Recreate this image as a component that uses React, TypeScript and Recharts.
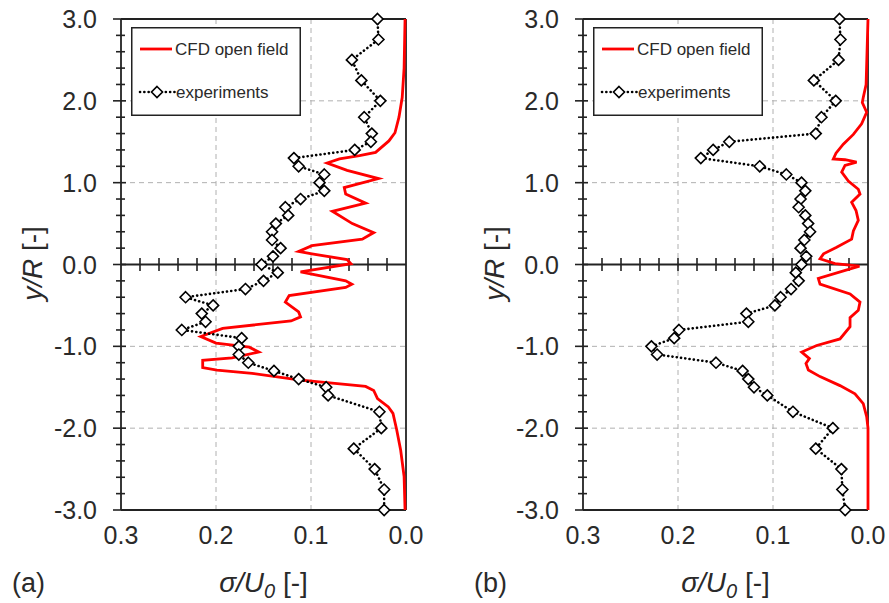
import React from "react";
import {
  ScatterChart,
  Scatter,
  XAxis,
  YAxis,
  ReferenceLine,
  Legend,
} from "recharts";

// ---------- data ----------
const expY = [
  3.0, 2.75, 2.5, 2.25, 2.0, 1.8, 1.6, 1.5, 1.4, 1.3, 1.2, 1.1, 1.0, 0.9, 0.8,
  0.7, 0.6, 0.5, 0.4, 0.3, 0.2, 0.1, 0.0, -0.1, -0.2, -0.3, -0.4, -0.5, -0.6,
  -0.7, -0.8, -0.9, -1.0, -1.1, -1.2, -1.3, -1.4, -1.5, -1.6, -1.8, -2.0, -2.25,
  -2.5, -2.75, -3.0,
];
const expA = [
  0.03, 0.029, 0.057, 0.047, 0.027, 0.044, 0.036, 0.037, 0.054, 0.118, 0.113,
  0.086, 0.091, 0.086, 0.111, 0.127, 0.124, 0.137, 0.141, 0.141, 0.132, 0.14,
  0.152, 0.135, 0.15, 0.169, 0.232, 0.203, 0.215, 0.211, 0.236, 0.173, 0.176,
  0.176, 0.166, 0.139, 0.113, 0.084, 0.082, 0.028, 0.026, 0.055, 0.033, 0.023,
  0.023,
];
const expB = [
  0.03, 0.029, 0.031, 0.057, 0.034, 0.049, 0.055, 0.146, 0.163, 0.176, 0.114,
  0.086, 0.07, 0.066, 0.071, 0.073, 0.066, 0.063, 0.061, 0.067, 0.071, 0.065,
  0.07, 0.076, 0.073, 0.081, 0.092, 0.098, 0.128, 0.126, 0.199, 0.204, 0.228,
  0.222, 0.16, 0.132, 0.126, 0.12, 0.106, 0.079, 0.037, 0.055, 0.028, 0.027,
  0.024,
];

const cfdAY = [
  3.0, 2.4, 2.04, 1.8, 1.61, 1.51, 1.37, 1.33, 1.29, 1.24, 1.15, 1.05, 0.94,
  0.86, 0.75, 0.65, 0.5, 0.39, 0.31, 0.23, 0.16, 0.13, 0.06, 0.01, -0.09, -0.2,
  -0.24, -0.28, -0.38, -0.46, -0.58, -0.64, -0.69, -0.78, -0.88, -0.96, -1.01,
  -1.07, -1.14, -1.17, -1.26, -1.29, -1.33, -1.41, -1.49, -1.54, -1.64, -1.74,
  -1.82, -2.02, -2.27, -2.59, -3.0,
];
const cfdAS = [
  0.001, 0.002, 0.004, 0.0074, 0.0116, 0.018, 0.032, 0.049, 0.07, 0.083, 0.062,
  0.029, 0.065, 0.0635, 0.0425, 0.0775, 0.0565, 0.034, 0.046, 0.099, 0.113,
  0.099, 0.062, 0.058, 0.111, 0.0635, 0.057, 0.0635, 0.123, 0.127, 0.113, 0.111,
  0.121, 0.193, 0.216, 0.2, 0.165, 0.155, 0.183, 0.214, 0.214, 0.199, 0.162,
  0.113, 0.0425, 0.034, 0.03, 0.0186, 0.0137, 0.0098, 0.0056, 0.002, 0.001,
];

const cfdBY = [
  3.0, 2.2, 2.04, 1.98, 1.86, 1.72, 1.59, 1.47, 1.36, 1.29, 1.28, 1.25, 1.21,
  1.13, 1.02, 0.92, 0.86, 0.76, 0.66, 0.54, 0.41, 0.31, 0.21, 0.13, 0.07, 0.01,
  -0.02, -0.17, -0.24, -0.36, -0.46, -0.56, -0.65, -0.76, -0.91, -0.99, -1.07,
  -1.15, -1.21, -1.29, -1.37, -1.48, -1.58, -1.7, -1.86, -2.0, -3.0,
];
const cfdBS = [
  0.0, 0.002, 0.005, 0.006, 0.0014, 0.0067, 0.0154, 0.026, 0.0337, 0.0365,
  0.0242, 0.012, 0.0242, 0.0277, 0.0207, 0.0102, 0.0084, 0.0172, 0.0126, 0.0102,
  0.0154, 0.0172, 0.033, 0.0468, 0.0505, 0.0347, 0.009, 0.0523, 0.0505, 0.0189,
  0.0084, 0.0102, 0.0189, 0.0189, 0.0295, 0.054, 0.0698, 0.0617, 0.0653, 0.0628,
  0.0505, 0.0295, 0.0137, 0.005, 0.0014, 0.0, 0.0,
];

const xTicks = [0.3, 0.2, 0.1, 0.0];
const xMinorTicks = [
  0.02, 0.04, 0.06, 0.08, 0.1, 0.12, 0.14, 0.16, 0.18, 0.2, 0.22, 0.24, 0.26,
  0.28,
];
const yTicks = [
  -3.0, -2.8, -2.6, -2.4, -2.2, -2.0, -1.8, -1.6, -1.4, -1.2, -1.0, -0.8, -0.6,
  -0.4, -0.2, 0.0, 0.2, 0.4, 0.6, 0.8, 1.0, 1.2, 1.4, 1.6, 1.8, 2.0, 2.2, 2.4,
  2.6, 2.8, 3.0,
];
const xGrid = [0.1, 0.2];
const yGrid = [-2, -1, 1, 2];
const xFrame = [0.0, 0.3];
const yFrame = [-3.0, 3.0];
const legendLabels = ["CFD open field", "experiments"];

const toPts = (ys: number[], ss: number[]) =>
  ys.map((y, i) => ({ y, s: ss[i] }));

// ---------- styling ----------
const FONT = '"Liberation Sans", Arial, sans-serif';
const AXIS = "#222";
const TEXT = "#2a2a2a";
const RED = "#ff0000";

const YTick = (props: any) => {
  const { x, y, payload } = props;
  const v = payload.value as number;
  const major = Math.abs(v - Math.round(v)) < 1e-6;
  return (
    <g>
      <line
        x1={x - (major ? 8 : 5)}
        x2={x + (major ? 5 : 4)}
        y1={y}
        y2={y}
        stroke={AXIS}
        strokeWidth={1.6}
      />
      {major && (
        <text
          x={x - 24}
          y={y}
          dy="0.36em"
          textAnchor="end"
          fontFamily={FONT}
          fontSize={25}
          fill={TEXT}
        >
          {v.toFixed(1)}
        </text>
      )}
    </g>
  );
};

const XTick = (props: any) => {
  const { x, y, payload } = props;
  return (
    <text
      x={x}
      y={y + 25}
      dy="0.36em"
      textAnchor="middle"
      fontFamily={FONT}
      fontSize={25}
      fill={TEXT}
    >
      {Number(payload.value).toFixed(1)}
    </text>
  );
};

const Diamond = (props: any) => {
  const { cx, cy } = props;
  if (cx == null || cy == null) return <g />;
  const r = 5.5;
  return (
    <polygon
      points={`${cx},${cy - r} ${cx + r},${cy} ${cx},${cy + r} ${cx - r},${cy}`}
      fill="#fff"
      stroke="#000"
      strokeWidth={1.6}
    />
  );
};

const NoShape = () => <g />;

const LegendBox = () => (
  <svg width={170} height={89} style={{ display: "block" }}>
    <rect x={0.75} y={0.75} width={168.5} height={87.5} fill="#fff" stroke={AXIS} strokeWidth={1.5} />
    <line x1={9} x2={41} y1={22} y2={22} stroke={RED} strokeWidth={2.8} />
    <text x={44} y={28} fontFamily={FONT} fontSize={17} fill={TEXT}>
      {legendLabels[0]}
    </text>
    <line
      x1={9}
      x2={44}
      y1={65}
      y2={65}
      stroke="#000"
      strokeWidth={2.6}
      strokeDasharray="0.1 4.2"
      strokeLinecap="round"
    />
    <Diamond cx={26} cy={65} />
    <text x={45} y={71} fontFamily={FONT} fontSize={17} fill={TEXT}>
      {legendLabels[1]}
    </text>
  </svg>
);

const XLabel = (panel: string) => (props: any) => {
  const vb = props.viewBox;
  const cx = vb.x + vb.width / 2;
  const by = vb.y + 82;
  return (
    <g>
      <text
        x={cx}
        y={by}
        textAnchor="middle"
        fontFamily={FONT}
        fontSize={28}
        fill={TEXT}
      >
        <tspan fontStyle="italic">σ/U</tspan>
        <tspan fontStyle="italic" fontSize={20} dy={6}>
          0
        </tspan>
        <tspan dy={-6}> [-]</tspan>
      </text>
      <text x={vb.x - 109} y={by} fontFamily={FONT} fontSize={27} fill={TEXT}>
        {panel}
      </text>
    </g>
  );
};

const YLabel = (props: any) => {
  const vb = props.viewBox;
  const cx = vb.x + vb.width - 89;
  const cy = vb.y + vb.height / 2 - 1;
  return (
    <text
      x={cx}
      y={cy}
      dy="0.36em"
      textAnchor="middle"
      fontFamily={FONT}
      fontSize={28}
      fill={TEXT}
      transform={`rotate(-90 ${cx} ${cy})`}
    >
      <tspan fontStyle="italic">y/R</tspan>
      <tspan> [-]</tspan>
    </text>
  );
};

type PanelProps = {
  cfd: { y: number; s: number }[];
  exp: { y: number; s: number }[];
  width: number;
  yAxisWidth: number;
  marginRight: number;
  label: string;
};

const Panel = ({ cfd, exp, width, yAxisWidth, marginRight, label }: PanelProps) => (
  <ScatterChart
    width={width}
    height={603}
    margin={{ top: 19, right: marginRight, bottom: 0, left: 0 }}
  >
    <XAxis
      type="number"
      dataKey="s"
      domain={[0, 0.3]}
      reversed
      ticks={xTicks}
      interval={0}
      tickSize={0}
      tickMargin={0}
      axisLine={false}
      tickLine={false}
      tick={XTick}
      height={93}
      label={{ content: XLabel(label) }}
    />
    <YAxis
      type="number"
      dataKey="y"
      domain={[-3, 3]}
      ticks={yTicks}
      interval={0}
      tickSize={0}
      tickMargin={0}
      axisLine={false}
      tickLine={false}
      tick={YTick}
      width={yAxisWidth}
      label={{ content: YLabel }}
    />
    {xGrid.map((v) => (
      <ReferenceLine key={"gx" + v} x={v} stroke="#b0b0b0" strokeDasharray="5 4" strokeWidth={1} />
    ))}
    {yGrid.map((v) => (
      <ReferenceLine key={"gy" + v} y={v} stroke="#b0b0b0" strokeDasharray="5 4" strokeWidth={1} />
    ))}
    <ReferenceLine y={0} stroke={AXIS} strokeWidth={1.8} />
    {xMinorTicks.map((v) => (
      <ReferenceLine
        key={"mt" + v}
        segment={[
          { x: v, y: -0.08 },
          { x: v, y: 0.08 },
        ]}
        stroke={AXIS}
        strokeWidth={1.6}
      />
    ))}
    {xFrame.map((v) => (
      <ReferenceLine key={"fx" + v} x={v} stroke={AXIS} strokeWidth={1.8} ifOverflow="visible" />
    ))}
    {yFrame.map((v) => (
      <ReferenceLine key={"fy" + v} y={v} stroke={AXIS} strokeWidth={1.8} ifOverflow="visible" />
    ))}
    <Scatter
      name={legendLabels[0]}
      data={cfd}
      line={{ stroke: RED, strokeWidth: 2.8 }}
      shape={NoShape}
      fill={RED}
      isAnimationActive={false}
    />
    <Scatter
      name={legendLabels[1]}
      data={exp}
      line={{
        stroke: "#000",
        strokeWidth: 2.6,
        strokeDasharray: "0.1 4.2",
        strokeLinecap: "round",
      }}
      shape={Diamond}
      fill="#fff"
      isAnimationActive={false}
    />
    <Legend
      layout="vertical"
      align="center"
      verticalAlign="middle"
      content={LegendBox}
      wrapperStyle={{ left: yAxisWidth + 10, top: 27, width: 170, height: 89 }}
    />
  </ScatterChart>
);

export default function App() {
  const cfdA = toPts(cfdAY, cfdAS);
  const cfdB = toPts(cfdBY, cfdBS);
  const ptsA = toPts(expY, expA);
  const ptsB = toPts(expY, expB);
  return (
    <div
      style={{
        position: "absolute",
        left: 0,
        top: 0,
        width: 889,
        height: 603,
        background: "#fff",
        overflow: "hidden",
      }}
    >
      <div style={{ position: "absolute", left: 0, top: 0 }}>
        <Panel cfd={cfdA} exp={ptsA} width={445} yAxisWidth={121} marginRight={39} label="(a)" />
      </div>
      <div style={{ position: "absolute", left: 445, top: 0 }}>
        <Panel cfd={cfdB} exp={ptsB} width={444} yAxisWidth={138} marginRight={21} label="(b)" />
      </div>
    </div>
  );
}
